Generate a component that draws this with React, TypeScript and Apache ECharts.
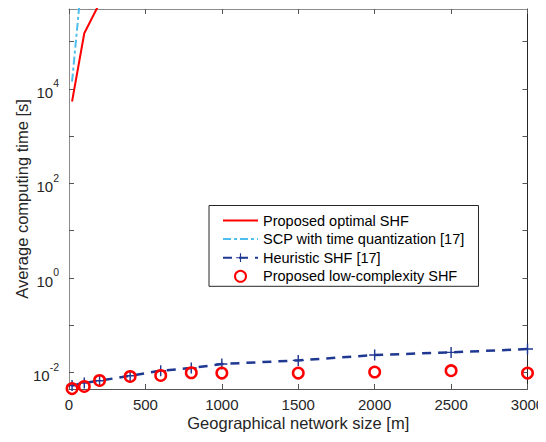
import React, { useEffect, useRef } from "react";
import * as echarts from "echarts";

const xValues = [20, 100, 200, 400, 600, 800, 1000, 1500, 2000, 2500, 3000];
const optimalX = [20, 100, 200];
const optimalY = [5400, 150000, 650000];
const scpX = [20, 100];
const scpY = [14300, 7400000];
const heuristicY = [0.0053, 0.0060, 0.0067, 0.0085, 0.0109, 0.0124, 0.0151, 0.0180, 0.0234, 0.0266, 0.0313];
const lowComplexityY = [0.00455, 0.00505, 0.00676, 0.00823, 0.00863, 0.00986, 0.0097, 0.0097, 0.0102, 0.0109, 0.0097];
const xTicks = [0, 500, 1000, 1500, 2000, 2500, 3000];
const yLabelExps = [-2, 0, 2, 4];
const yTickExps = [-2, -1, 0, 1, 2, 3, 4, 5];
const seriesNames = [
  "Proposed optimal SHF",
  "SCP with time quantization [17]",
  "Heuristic SHF [17]",
  "Proposed low-complexity SHF",
];

const FONT = "'Liberation Sans', Arial, Helvetica, sans-serif";
const TXT = "#262626";
const PLUS = "path://M-0.13,-1 L0.13,-1 L0.13,-0.13 L1,-0.13 L1,0.13 L0.13,0.13 L0.13,1 L-0.13,1 L-0.13,0.13 L-1,0.13 L-1,-0.13 L-0.13,-0.13 Z";

const Y_MIN = -2.35;
const Y_MAX = 5.69;

export default function App() {
  const ref = useRef<HTMLDivElement>(null);
  useEffect(() => {
    if (!ref.current) return;
    const chart = echarts.init(ref.current, null, { renderer: "svg" });
    const pts = (xs: number[], ys: number[]) => xs.map((x, i) => [x, Math.log10(ys[i])]);
    const xAxisBase = {
      type: "value",
      min: xTicks[0],
      max: xTicks[xTicks.length - 1],
      interval: 500,
      splitLine: { show: false },
    };
    const yAxisBase = {
      type: "value",
      min: Y_MIN,
      max: Y_MAX,
      splitLine: { show: false },
    };
    chart.setOption({
      animation: false,
      backgroundColor: "#fff",
      grid: { left: 69, right: 18.5, top: 9, bottom: 53, containLabel: false, outerBoundsMode: "none" },
      xAxis: [
        {
          ...xAxisBase,
          position: "bottom",
          name: "Geographical network size [m]",
          nameLocation: "middle",
          nameGap: 25,
          nameMoveOverlap: false,
          nameTextStyle: { fontFamily: FONT, fontSize: 16.5, color: TXT },
          axisLine: { show: true, onZero: false, lineStyle: { color: "#555", width: 1 } },
          axisTick: { show: true, inside: true, length: 5, lineStyle: { color: "#555" } },
          axisLabel: {
            show: true,
            margin: 8,
            fontFamily: FONT,
            fontSize: 15,
            color: TXT,
            formatter: (v: number) => String(v),
          },
        },
        {
          ...xAxisBase,
          position: "top",
          axisLine: { show: true, onZero: false, lineStyle: { color: "#8c8c8c", width: 1 } },
          axisTick: { show: true, inside: true, length: 5, lineStyle: { color: "#555" } },
          axisLabel: { show: false },
        },
      ],
      yAxis: [
        {
          ...yAxisBase,
          position: "left",
          name: "Average computing time [s]",
          nameLocation: "middle",
          nameGap: 39,
          nameMoveOverlap: false,
          nameTextStyle: { fontFamily: FONT, fontSize: 16.5, color: TXT },
          axisLine: { show: true, onZero: false, lineStyle: { color: "#8c8c8c", width: 1 } },
          axisTick: { show: true, inside: true, length: 5, customValues: yTickExps, lineStyle: { color: "#555" } },
          axisLabel: {
            show: true,
            margin: 10,
            customValues: yLabelExps,
            formatter: (v: number) => `{b|10}{e|${Math.round(v)}}`,
            rich: {
              b: { fontFamily: FONT, fontSize: 15, lineHeight: 22, color: TXT, verticalAlign: "bottom" },
              e: { fontFamily: FONT, fontSize: 10.5, lineHeight: 12, color: TXT, verticalAlign: "top" },
            },
          },
        },
        {
          ...yAxisBase,
          position: "right",
          axisLine: { show: true, onZero: false, lineStyle: { color: "#262626", width: 1 } },
          axisTick: { show: true, inside: true, length: 5, customValues: yTickExps, lineStyle: { color: "#555" } },
          axisLabel: { show: false },
        },
      ],
      legend: {
        orient: "vertical",
        left: 209,
        top: 205.5,
        data: [
          { name: seriesNames[0], itemStyle: { opacity: 0 } },
          { name: seriesNames[1], itemStyle: { opacity: 0 } },
          { name: seriesNames[2] },
          { name: seriesNames[3] },
        ],
        itemWidth: 35,
        itemHeight: 11,
        itemGap: 3.6,
        padding: [7.5, 14, 2.5, 13],
        borderColor: "#262626",
        borderWidth: 1,
        borderRadius: 0,
        backgroundColor: "#fff",
        textStyle: { fontFamily: FONT, fontSize: 14.5, color: "#000" },
      },
      series: [
        {
          name: seriesNames[0],
          type: "line",
          data: pts(optimalX, optimalY),
          symbol: "none",
          lineStyle: { color: "#ff0000", width: 2 },
          itemStyle: { color: "#ff0000" },
          clip: true,
          z: 3,
        },
        {
          name: seriesNames[1],
          type: "line",
          data: pts(scpX, scpY),
          symbol: "none",
          lineStyle: { color: "#4dbeee", width: 2, type: [8, 3, 3, 3] },
          itemStyle: { color: "#4dbeee" },
          clip: true,
          z: 2,
        },
        {
          name: seriesNames[2],
          type: "line",
          data: pts(xValues, heuristicY),
          symbol: PLUS,
          symbolSize: 11,
          showAllSymbol: true,
          lineStyle: { color: "#1f3892", width: 2.5, type: [9, 7] },
          itemStyle: { color: "#1f3892", borderWidth: 0 },
          clip: true,
          z: 4,
        },
        {
          name: seriesNames[3],
          type: "scatter",
          data: pts(xValues, lowComplexityY),
          symbol: "circle",
          symbolSize: 10.5,
          itemStyle: { color: "rgba(0,0,0,0)", borderColor: "#ff0000", borderWidth: 2.5, opacity: 1 },
          clip: false,
          z: 5,
        },
      ],
    });
    return () => chart.dispose();
  }, []);
  return <div ref={ref} style={{ width: 546, height: 442, marginLeft: -8, marginTop: -8 }} />;
}
